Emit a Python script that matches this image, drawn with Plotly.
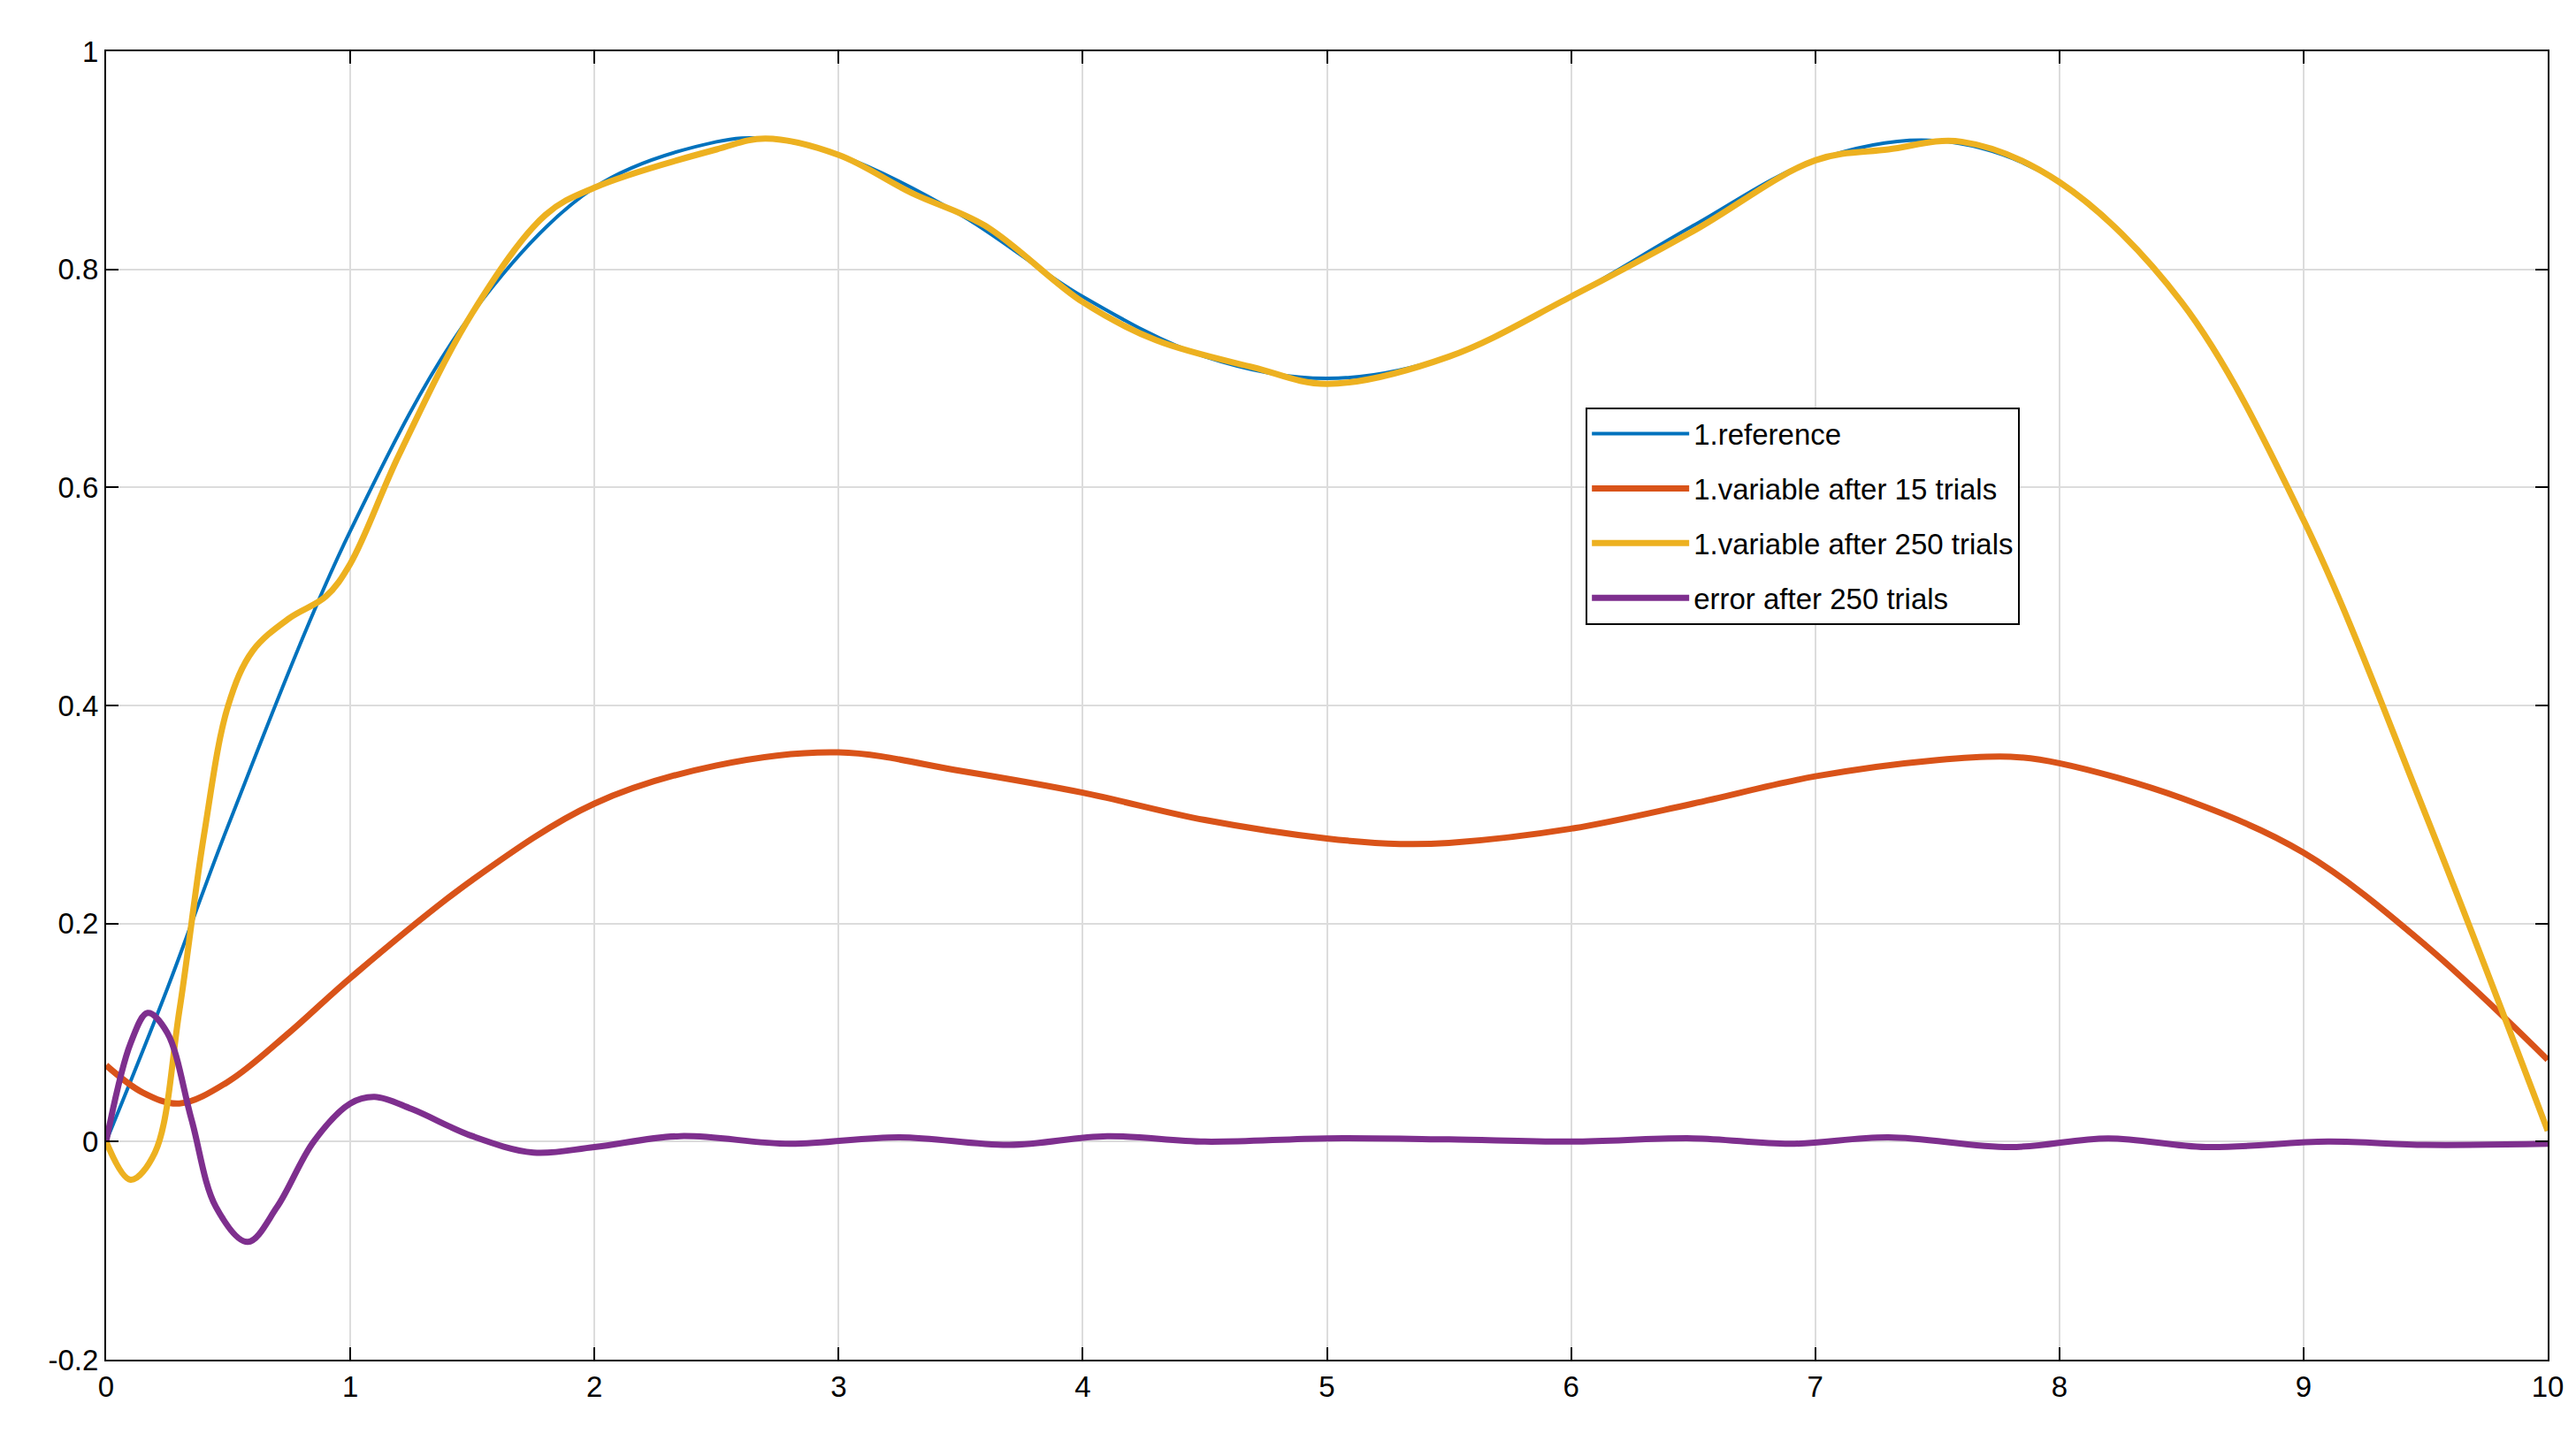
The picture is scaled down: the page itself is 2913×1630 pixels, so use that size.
import plotly.graph_objects as go

x_ref = [0, 0.25, 0.5, 1, 1.5, 2, 2.5, 2.7, 3, 3.5, 4, 4.5, 5, 5.5, 6, 6.5, 7, 7.5, 8, 8.5, 9, 9.5, 10]
y_ref = [0, 0.14, 0.29, 0.56, 0.76, 0.875, 0.917, 0.92, 0.905, 0.85, 0.775, 0.72, 0.70, 0.72, 0.775, 0.84, 0.9, 0.918, 0.88, 0.77, 0.57, 0.3, 0.01]

x_15 = [0, 0.15, 0.3, 0.5, 0.75, 1, 1.5, 2, 2.5, 3, 3.5, 4, 4.5, 5, 5.3, 5.5, 6, 6.5, 7, 7.5, 7.8, 8, 8.5, 9, 9.5, 10]
y_15 = [0.07, 0.045, 0.035, 0.055, 0.1, 0.15, 0.24, 0.31, 0.345, 0.357, 0.34, 0.32, 0.295, 0.278, 0.273, 0.274, 0.287, 0.31, 0.335, 0.35, 0.353, 0.347, 0.315, 0.265, 0.18, 0.075]

x_250 = [0, 0.1, 0.2, 0.3, 0.4, 0.5, 0.6, 0.75, 0.9, 1.0, 1.2, 1.5, 1.8, 2, 2.5, 2.7, 3, 3.3, 3.6, 4, 4.3, 4.7, 5, 5.5, 6, 6.5, 7, 7.3, 7.6, 8, 8.5, 9, 9.5, 10]
y_250 = [0, -0.035, -0.01, 0.12, 0.28, 0.4, 0.45, 0.48, 0.5, 0.53, 0.63, 0.76, 0.85, 0.875, 0.91, 0.92, 0.905, 0.87, 0.84, 0.77, 0.735, 0.71, 0.695, 0.72, 0.775, 0.835, 0.9, 0.91, 0.917, 0.88, 0.77, 0.57, 0.3, 0.01]

x_err = [0, 0.1, 0.17, 0.25, 0.35, 0.45, 0.58, 0.7, 0.85, 1, 1.1, 1.25, 1.5, 1.75, 2, 2.35, 2.8, 3.25, 3.7, 4.1, 4.5, 5, 5.5, 6, 6.5, 6.9, 7.3, 7.8, 8.2, 8.6, 9.1, 9.5, 10]
y_err = [0, 0.09, 0.118, 0.1, 0.02, -0.06, -0.092, -0.06, 0.0, 0.035, 0.041, 0.03, 0.005, -0.01, -0.005, 0.005, -0.002, 0.004, -0.003, 0.005, 0.0, 0.003, 0.002, 0.0, 0.003, -0.002, 0.004, -0.005, 0.003, -0.005, 0.0, -0.003, -0.002]

y_ticks = [-0.2, 0, 0.2, 0.4, 0.6, 0.8, 1]
y_ticktext = ["-0.2", "0", "0.2", "0.4", "0.6", "0.8", "1"]

fig = go.Figure()
fig.add_trace(go.Scatter(x=x_ref, y=y_ref, mode="lines", name="1.reference", legendgroup="a",
                         line=dict(color="#0072BD", width=4, shape="spline")))
fig.add_trace(go.Scatter(x=x_15, y=y_15, mode="lines", name="1.variable after 15 trials", legendgroup="b",
                         line=dict(color="#D95319", width=7, shape="spline")))
fig.add_trace(go.Scatter(x=x_250, y=y_250, mode="lines", name="1.variable after 250 trials", legendgroup="c",
                         line=dict(color="#EDB120", width=7, shape="spline")))
fig.add_trace(go.Scatter(x=x_err, y=y_err, mode="lines", name="error after 250 trials", legendgroup="d",
                         line=dict(color="#7E2F8E", width=7, shape="spline")))

axis = dict(showline=True, linecolor="black", linewidth=2, mirror="ticks", ticks="inside",
            ticklen=14, tickwidth=2, tickcolor="black", gridcolor="#dcdcdc", gridwidth=2,
            zeroline=False, tickfont=dict(size=33, color="black"))
fig.update_xaxes(range=[0, 10], dtick=1, **axis)
fig.update_yaxes(range=[-0.2, 1], tickvals=y_ticks, ticktext=y_ticktext, **axis)
fig.update_layout(
    width=2913, height=1630, plot_bgcolor="white", paper_bgcolor="white",
    font=dict(family="Liberation Sans", size=32, color="black"),
    margin=dict(l=112, r=40, t=50, b=100),
    legend=dict(x=0.606, y=0.728, xanchor="left", yanchor="top", bgcolor="white",
                bordercolor="black", borderwidth=2, font=dict(size=33),
                itemwidth=110, tracegroupgap=16),
)
fig.write_html("out.html")
